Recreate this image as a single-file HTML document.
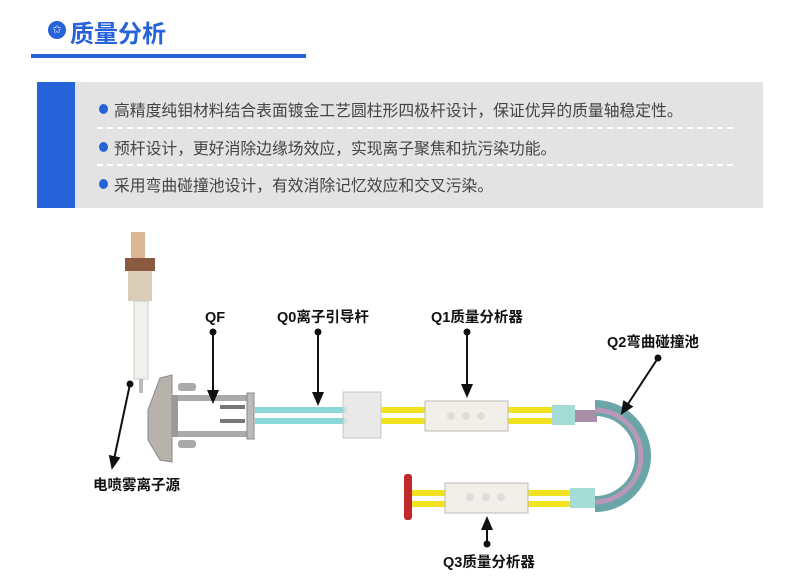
<!DOCTYPE html>
<html><head><meta charset="utf-8"><style>
body{margin:0;width:800px;height:582px;background:#fff;overflow:hidden;font-family:"Liberation Sans","Noto Sans CJK SC",sans-serif;position:relative}
.t{position:absolute;left:70px;top:14px;font-size:24px;font-weight:bold;color:#2663d8}
.ic{position:absolute;left:48px;top:21px;width:18px;height:18px;border-radius:50%;background:#2663d8;color:#fff;font-size:11px;text-align:center;line-height:18px}
.ul{position:absolute;left:31px;top:54px;width:275px;height:4px;background:#2663d8}
.box{position:absolute;left:37px;top:82px;width:726px;height:126px;background:#e3e3e3}
.bar{position:absolute;left:0;top:0;width:38px;height:126px;background:#2663d8}
.li{position:absolute;left:77px;font-size:15.8px;color:#444;white-space:nowrap}
.li:before{content:"";position:absolute;left:-15px;top:6px;width:9px;height:10px;border-radius:50%;background:#2663d8}
.dl{position:absolute;left:60px;width:636px;border-top:2px dashed #fff}
</style></head><body>
<div class="ic">✩</div><div class="t">质量分析</div><div class="ul"></div>
<div class="box"><div class="bar"></div>
<div class="li" style="top:16px">高精度纯钼材料结合表面镀金工艺圆柱形四极杆设计，保证优异的质量轴稳定性。</div>
<div class="dl" style="top:45px"></div>
<div class="li" style="top:54px">预杆设计，更好消除边缘场效应，实现离子聚焦和抗污染功能。</div>
<div class="dl" style="top:82px"></div>
<div class="li" style="top:91px">采用弯曲碰撞池设计，有效消除记忆效应和交叉污染。</div>
</div>
<svg style="position:absolute;left:0;top:0" width="800" height="582">
<defs><marker id="a" markerWidth="8" markerHeight="8" refX="4" refY="4" orient="auto"><path d="M0,1 L7,4 L0,7z" fill="#111"/></marker></defs>
<rect x="131" y="232" width="14" height="26" fill="#dcb595"/>
<rect x="125" y="258" width="30" height="13" fill="#8a5a40"/>
<rect x="128" y="271" width="24" height="30" fill="#d9cdb8"/>
<rect x="134" y="301" width="14" height="78" fill="#f1f0ec" stroke="#ccc"/>
<rect x="139" y="379" width="4" height="14" fill="#bbb"/>
<polygon points="148,410 160,378 172,375 172,462 160,460 148,440" fill="#b8b2ac" stroke="#888"/>
<rect x="172" y="395" width="81" height="6" fill="#aaa"/>
<rect x="172" y="431" width="81" height="6" fill="#aaa"/>
<rect x="172" y="395" width="6" height="42" fill="#999"/>
<rect x="247" y="393" width="7" height="46" fill="#bbb" stroke="#888"/>
<rect x="178" y="383" width="18" height="8" rx="3" fill="#aaa"/>
<rect x="178" y="440" width="18" height="8" rx="3" fill="#aaa"/>
<rect x="220" y="405" width="25" height="4" fill="#777"/>
<rect x="220" y="419" width="25" height="4" fill="#777"/>
<rect x="255" y="407" width="92" height="6" fill="#8ad8d8"/>
<rect x="255" y="418" width="92" height="6" fill="#8ad8d8"/>
<rect x="343" y="392" width="38" height="46" fill="#e4e4e4" opacity=".8" stroke="#bbb"/>
<rect x="381" y="407" width="44" height="6" fill="#f1e320"/>
<rect x="381" y="418" width="44" height="6" fill="#f1e320"/>
<rect x="508" y="407" width="44" height="6" fill="#f1e320"/>
<rect x="508" y="418" width="44" height="6" fill="#f1e320"/>
<rect x="425" y="401" width="83" height="30" fill="#f2efe9" stroke="#bbb"/>
<circle cx="451" cy="416" r="4" fill="#ddd"/><circle cx="466" cy="416" r="4" fill="#ddd"/><circle cx="481" cy="416" r="4" fill="#ddd"/>
<rect x="552" y="405" width="23" height="20" fill="#a6dcd6"/>
<rect x="575" y="410" width="22" height="12" fill="#a88ea8"/>
<path d="M595,408 A48,48 0 0 1 595,504" fill="none" stroke="#6aa5a8" stroke-width="16"/>
<path d="M595,410 A46,46 0 0 1 595,502" fill="none" stroke="#b898b8" stroke-width="5"/>
<rect x="404" y="474" width="8" height="46" rx="3" fill="#c0282a"/>
<rect x="412" y="490" width="33" height="6" fill="#f1e320"/>
<rect x="412" y="501" width="33" height="6" fill="#f1e320"/>
<rect x="528" y="490" width="42" height="6" fill="#f1e320"/>
<rect x="528" y="501" width="42" height="6" fill="#f1e320"/>
<rect x="445" y="483" width="83" height="30" fill="#f2efe9" stroke="#bbb"/>
<circle cx="470" cy="497" r="4" fill="#ddd"/><circle cx="486" cy="497" r="4" fill="#ddd"/><circle cx="501" cy="497" r="4" fill="#ddd"/>
<rect x="570" y="488" width="25" height="20" fill="#a6dcd6"/>
<g stroke="#111" stroke-width="2" fill="#111">
<line x1="213" y1="332" x2="213" y2="398" marker-end="url(#a)"/><circle cx="213" cy="332" r="2.5"/>
<line x1="318" y1="332" x2="318" y2="400" marker-end="url(#a)"/><circle cx="318" cy="332" r="2.5"/>
<line x1="467" y1="332" x2="467" y2="392" marker-end="url(#a)"/><circle cx="467" cy="332" r="2.5"/>
<line x1="658" y1="358" x2="624" y2="410" marker-end="url(#a)"/><circle cx="658" cy="358" r="2.5"/>
<line x1="130" y1="384" x2="113" y2="464" marker-end="url(#a)"/><circle cx="130" cy="384" r="2.5"/>
<line x1="487" y1="544" x2="487" y2="522" marker-end="url(#a)"/><circle cx="487" cy="544" r="2.5"/>
</g>
<g font-size="14.5" font-weight="bold" fill="#111" font-family="Liberation Sans,Noto Sans CJK SC,sans-serif">
<text x="205" y="322">QF</text>
<text x="277" y="322">Q0离子引导杆</text>
<text x="431" y="322">Q1质量分析器</text>
<text x="607" y="347">Q2弯曲碰撞池</text>
<text x="93" y="490">电喷雾离子源</text>
<text x="443" y="567">Q3质量分析器</text>
</g>
</svg>
</body></html>
